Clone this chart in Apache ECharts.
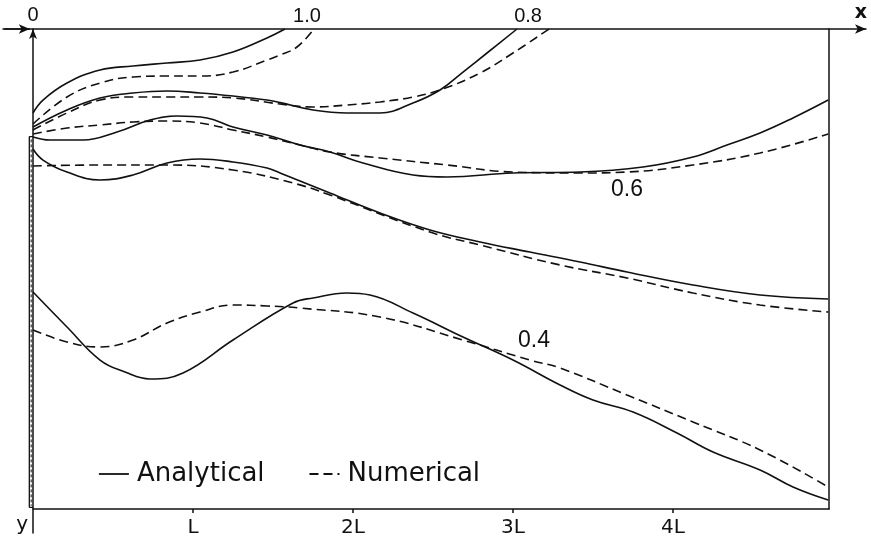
<!DOCTYPE html>
<html><head><meta charset="utf-8">
<script src="https://cdn.jsdelivr.net/npm/echarts@6/dist/echarts.min.js"></script>
<style>html,body{margin:0;padding:0;background:#fff}#c{width:871px;height:542px}</style>
</head><body><div id="c"></div>
<script>
// ---- Data (x and y in units of L; y measured downward) ----
const tickValues = [1, 2, 3, 4];
const tickLabels = ['L', '2L', '3L', '4L'];
const streamValues = ['1.0', '0.8', '0.6', '0.4'];
const seriesNames = ['Analytical', 'Numerical'];

// stream line 1.0
const xA10 = [0, .0625, .2125, .419, .625, .8375, 1.044, 1.25, 1.4625, 1.575];
const yA10 = [.525, .444, .3375, .256, .231, .2125, .194, .144, .056, 0];
const xN10 = [0, .2125, .419, .625, .8375, 1.044, 1.25, 1.4625, 1.544, 1.65, 1.756];
const yN10 = [.594, .425, .3375, .3, .294, .294, .269, .194, .1625, .1125, 0];
// stream line 0.8
const xA08 = [0, .2125, .419, .625, .8375, 1.044, 1.25, 1.4625, 1.544, 1.75, 1.9625, 2.169, 2.375, 2.544, 2.6875, 2.8375, 3.025];
const yA08 = [.6125, .506, .431, .4, .3875, .4, .419, .444, .46, .506, .525, .525, .4625, .381, .269, .15, 0];
const xN08 = [0, .2125, .419, .625, .8375, 1.044, 1.25, 1.544, 1.75, 1.9625, 2.169, 2.375, 2.544, 2.794, 3.0, 3.225];
const yN08 = [.631, .525, .444, .425, .425, .425, .431, .469, .4875, .475, .456, .425, .381, .275, .15, 0];
// stream line 0.6
const xA06 = [0, .10625, .3125, .525, .731, .9, 1.0875, 1.25, 1.4625, 1.669, 1.856, 2.0625, 2.375, 2.5875, 3.0, 3.419, 3.8125, 4.125, 4.3375, 4.544, 4.75, 4.97];
const yA06 = [.675, .694, .694, .644, .569, .544, .556, .6125, .6625, .725, .769, .8375, .9125, .925, .9, .894, .8625, .8, .725, .65, .556, .444];
const xN06 = [0, .2125, .419, .625, .8375, 1.044, 1.25, 1.4625, 1.669, 1.856, 2.169, 2.5875, 3.0, 3.419, 3.7125, 4.125, 4.544, 4.97];
const yN06 = [.656, .619, .6, .581, .575, .5875, .631, .675, .725, .769, .806, .85, .894, .9, .894, .85, .775, .656];
// unlabelled stream line between 0.6 and 0.4
const xA05 = [0, .0625, .2125, .419, .625, .8375, 1.044, 1.25, 1.4625, 1.544, 1.856, 2.169, 2.481, 2.794, 3.106, 3.419, 3.7125, 4.125, 4.544, 4.97];
const yA05 = [.75, .819, .894, .944, .9125, .8375, .8125, .831, .869, .9, 1.025, 1.15, 1.256, 1.331, 1.394, 1.456, 1.519, 1.6, 1.6625, 1.6875];
const xN05 = [0, .419, .8375, 1.25, 1.625, 1.856, 2.481, 2.794, 3.294, 3.7125, 4.125, 4.544, 4.97];
const yN05 = [.856, .85, .85, .881, .9625, 1.0375, 1.269, 1.35, 1.475, 1.556, 1.65, 1.725, 1.769];
// stream line 0.4
const xA04 = [0, .2125, .419, .575, .731, .9375, 1.25, 1.625, 1.75, 1.9625, 2.106, 2.375, 2.6875, 3.0, 3.294, 3.5, 3.75, 4.025, 4.25, 4.544, 4.75, 4.97];
const yA04 = [1.644, 1.8625, 2.069, 2.144, 2.1875, 2.15, 1.944, 1.7125, 1.681, 1.65, 1.6625, 1.775, 1.925, 2.069, 2.225, 2.319, 2.394, 2.525, 2.644, 2.756, 2.8625, 2.944];
const xN04 = [0, .2125, .419, .625, .8375, 1.044, 1.25, 1.4625, 1.669, 2.169, 2.6875, 3.106, 3.294, 3.7125, 4.125, 4.544, 4.97];
const yN04 = [1.881, 1.956, 1.9875, 1.944, 1.8375, 1.769, 1.725, 1.731, 1.744, 1.8, 1.944, 2.069, 2.119, 2.2875, 2.456, 2.631, 2.8625];

// plate (wall) at x = 0 and the incoming-flow arrow
const plateOuter = [[-0.023, 2.99], [-0.023, 0.673], [0, 0.673]];
const plateBottom = [[-0.023, 2.99], [0, 2.99]];
const plateCenter = [[-0.0115, 0.69], [-0.0115, 2.98]];
const inflowArrow = [[-0.18, 0], [-0.02, 0]];
// label anchors for the stream-function values
const labelAnchors = [[1.7125, 0], [3.094, 0], [3.7125, 1.006], [3.131, 1.95]];

// ---- Chart ----
const INK = '#111';
const zip = (xs, ys) => xs.map((x, i) => [x, ys[i]]);
const numFont = "'Liberation Sans Narrow','Liberation Sans',sans-serif";

function curve(kind, xs, ys) {
  return {
    type: 'line', name: seriesNames[kind], xAxisIndex: 1, yAxisIndex: 1,
    data: zip(xs, ys), smooth: 0.42, symbol: 'none', silent: true,
    lineStyle: { color: INK, width: 1.6, type: kind === 0 ? 'solid' : [9, 5] },
    itemStyle: { color: INK }, z: 3
  };
}
function tagPoint(i, pos, size) {
  return {
    symbol: 'circle', symbolSize: 1, silent: true,
    itemStyle: { color: 'rgba(0,0,0,0)' },
    label: { show: true, position: pos, distance: 2, formatter: streamValues[i],
      color: INK, fontSize: size, fontFamily: numFont },
    data: [{ coord: labelAnchors[i] }]
  };
}

const series = [
  Object.assign(curve(0, xA10, yA10), { markPoint: tagPoint(0, 'top', 20) }),
  curve(1, xN10, yN10),
  Object.assign(curve(0, xA08, yA08), { markPoint: tagPoint(1, 'top', 20) }),
  curve(1, xN08, yN08),
  Object.assign(curve(0, xA06, yA06), { markPoint: tagPoint(2, 'inside', 23) }),
  curve(1, xN06, yN06),
  curve(0, xA05, yA05),
  curve(1, xN05, yN05),
  Object.assign(curve(0, xA04, yA04), { markPoint: tagPoint(3, 'inside', 23) }),
  curve(1, xN04, yN04),
  {
    type: 'line', name: 'plate', xAxisIndex: 0, yAxisIndex: 0, data: plateOuter,
    symbol: 'none', silent: true, lineStyle: { color: INK, width: 1.3 },
    markLine: {
      symbol: ['none', 'arrow'], symbolSize: [7, 11], silent: true,
      lineStyle: { color: INK, width: 1.5, type: 'solid' }, label: { show: false },
      data: [[{ coord: inflowArrow[0] }, { coord: inflowArrow[1] }]]
    }
  },
  { type: 'line', name: 'plate', xAxisIndex: 0, yAxisIndex: 0, data: plateBottom,
    symbol: 'none', silent: true, lineStyle: { color: INK, width: 1.3 } },
  { type: 'line', name: 'plate', xAxisIndex: 0, yAxisIndex: 0, data: plateCenter,
    symbol: 'none', silent: true, lineStyle: { color: INK, width: 1, type: [3, 2] } }
];

const option = {
  animation: false,
  backgroundColor: '#fff',
  grid: [
    { left: 3, right: 5, top: 29, bottom: 9 },
    { left: 33, right: 42, top: 29, bottom: 33 }
  ],
  xAxis: [
    { type: 'value', gridIndex: 0, min: -0.1875, max: 5.206, position: 'top',
      axisLine: { show: true, onZero: true, symbol: ['none', 'arrow'], symbolSize: [7, 11],
        lineStyle: { color: INK, width: 1.5 } },
      axisTick: { show: false }, splitLine: { show: false },
      axisLabel: { show: true, customValues: [0], formatter: () => '0', margin: 4,
        color: INK, fontSize: 20, fontFamily: numFont },
      name: 'x', nameLocation: 'end', nameGap: -5,
      nameTextStyle: { color: INK, fontSize: 19, fontWeight: 'bold', fontFamily: "'DejaVu Sans',sans-serif",
        align: 'center', verticalAlign: 'bottom', padding: [0, 0, 6, 0] } },
    { type: 'value', gridIndex: 1, min: 0, max: 4.975, interval: 1, position: 'bottom',
      axisLine: { show: true, onZero: false, lineStyle: { color: INK, width: 1.5 } },
      axisTick: { show: true, customValues: tickValues, length: 4, lineStyle: { color: INK, width: 1.5 } },
      axisLabel: { show: true, customValues: tickValues,
        formatter: v => tickLabels[tickValues.indexOf(Math.round(v))] || '',
        margin: 9, color: INK, fontSize: 20, fontFamily: "'DejaVu Sans',sans-serif" },
      splitLine: { show: false } }
  ],
  yAxis: [
    { type: 'value', gridIndex: 0, min: 0, max: 3.15, inverse: true,
      axisLine: { show: true, onZero: true, symbol: ['none', 'arrow'], symbolSize: [6, 10],
        lineStyle: { color: INK, width: 1.5 } },
      axisTick: { show: false }, axisLabel: { show: false }, splitLine: { show: false },
      name: 'y', nameLocation: 'end', nameGap: -8,
      nameTextStyle: { color: INK, fontSize: 20, fontFamily: "'DejaVu Sans',sans-serif",
        align: 'right', verticalAlign: 'middle', padding: [0, 5, 0, 0] } },
    { type: 'value', gridIndex: 1, min: 0, max: 3, inverse: true, position: 'right',
      axisLine: { show: true, onZero: false, lineStyle: { color: INK, width: 1.5 } },
      axisTick: { show: false }, axisLabel: { show: false }, splitLine: { show: false } }
  ],
  legend: {
    data: seriesNames, left: 93, top: 456, itemWidth: 30, itemHeight: 14, itemGap: 44,
    selectedMode: false,
    itemStyle: { opacity: 0 },
    lineStyle: { width: 1.8 },
    textStyle: { color: INK, fontSize: 26, fontFamily: "'DejaVu Sans',sans-serif", padding: [0, 0, 0, 3] }
  },
  series: series
};
const chart = echarts.init(document.getElementById('c'), null, { renderer: 'canvas' });
chart.setOption(option);
</script>
</body></html>
